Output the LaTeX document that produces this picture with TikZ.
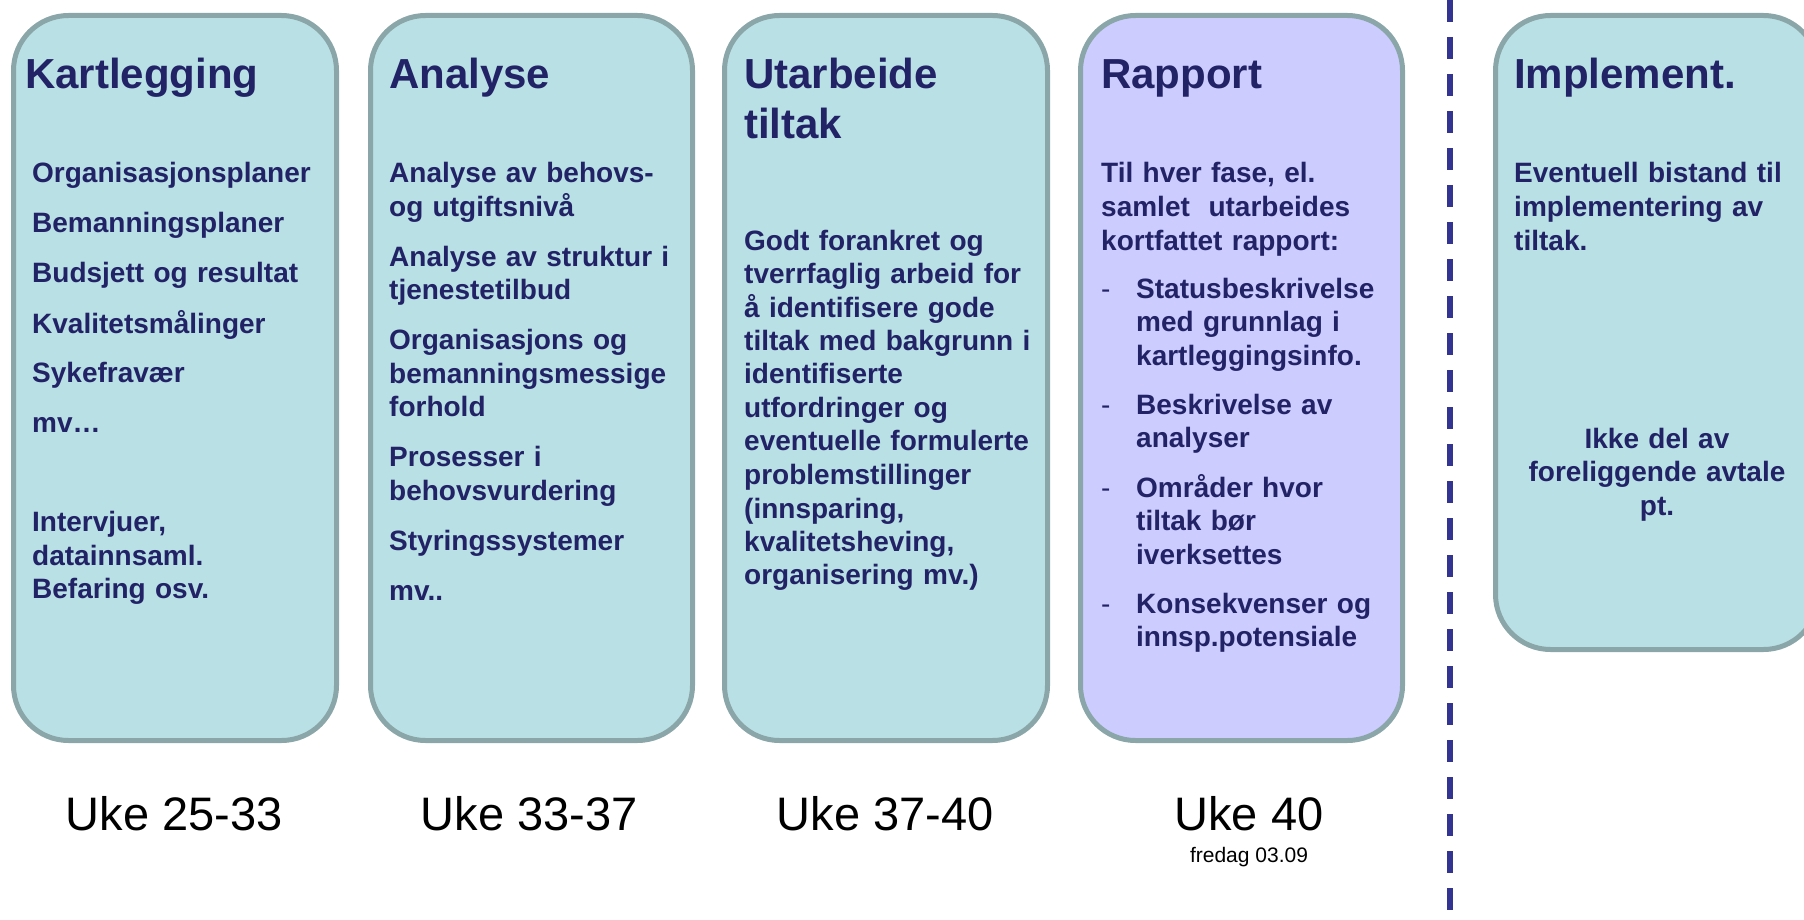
\documentclass[tikz,border=0pt]{standalone}
\usepackage{fontspec}
\setmainfont{Liberation Sans}
\definecolor{tealfill}{RGB}{185,224,228}
\definecolor{lilacfill}{RGB}{204,204,255}
\definecolor{boxline}{RGB}{138,166,168}
\definecolor{navytext}{RGB}{34,34,102}
\definecolor{dashcol}{RGB}{51,51,145}
\tikzset{
  phase/.style={draw=boxline, line width=5pt, rounded corners=55pt},
  ttl/.style={anchor=base west, inner sep=0pt, text=navytext, font=\fontsize{42}{50}\selectfont\bfseries, text width=300pt, align=left},
  body/.style={anchor=base west, inner sep=0pt, text=navytext, font=\fontsize{28}{33.5}\selectfont\bfseries, text width=330pt, align=left},
  cbody/.style={anchor=base, inner sep=0pt, text=navytext, font=\fontsize{28}{33.5}\selectfont\bfseries, text width=320pt, align=center},
  week/.style={anchor=base, inner sep=0pt, font=\fontsize{47}{56}\selectfont},
  small/.style={anchor=base, inner sep=0pt, font=\fontsize{21}{25}\selectfont}
}
\newcommand{\dashitem}{\makebox[35pt][l]{\mdseries -}}
\newcommand{\indentitem}{\hspace*{35pt}}
\begin{document}
\begin{tikzpicture}[x=1pt,y=-1pt]
\useasboundingbox (0,0) rectangle (1804,920);
\clip (0,0) rectangle (1804,920);
% boxes
\draw[phase, fill=tealfill] (13.5,15.5) rectangle (336.5,740.5);
\draw[phase, fill=tealfill] (370.5,15.5) rectangle (692.5,740.5);
\draw[phase, fill=tealfill] (724.5,15.5) rectangle (1047.5,740.5);
\draw[phase, fill=lilacfill] (1080.5,15.5) rectangle (1402.5,740.5);
\draw[phase, fill=tealfill] (1495.5,15.5) rectangle (1818.5,649.5);
% dashed separator
\coordinate (sepTop) at (1450,0);
\coordinate (sepBot) at (1450,920);
\draw[dashcol, line width=6pt, dash pattern=on 22pt off 15pt] (sepTop) -- (sepBot);
% titles
\node[ttl] (t1) at (25,89) {Kartlegging};
\node[ttl] (t2) at (389,89) {Analyse};
\node[ttl] (t3) at (744,89) {Utarbeide\\tiltak};
\node[ttl] (t4) at (1101,89) {Rapport};
\node[ttl] (t5) at (1514,89) {Implement.};
% bodies
\node[body] (b1) at (32,183) {Organisasjonsplaner\\[16.5pt]Bemanningsplaner\\[16.5pt]Budsjett og resultat\\[16.5pt]Kvalitetsmålinger\\[16.5pt]Sykefravær\\[16.5pt]mv…\\[65.5pt]Intervjuer,\\datainnsaml.\\Befaring osv.};
\node[body] (b2) at (389,183) {Analyse av behovs-\\og utgiftsnivå\\[16.5pt]Analyse av struktur i\\tjenestetilbud\\[16.5pt]Organisasjons og\\bemanningsmessige\\forhold\\[16.5pt]Prosesser i\\behovsvurdering\\[16.5pt]Styringssystemer\\[16.5pt]mv..};
\node[body] (b3) at (744,250) {Godt forankret og\\tverrfaglig arbeid for\\å identifisere gode\\tiltak med bakgrunn i\\identifiserte\\utfordringer og\\eventuelle formulerte\\problemstillinger\\(innsparing,\\kvalitetsheving,\\organisering mv.)};
\node[body] (b4) at (1101,183) {Til hver fase, el.\\samlet\ \ utarbeides\\kortfattet rapport:\\[15pt]\dashitem Statusbeskrivelse\\\indentitem med grunnlag i\\\indentitem kartleggingsinfo.\\[15.5pt]\dashitem Beskrivelse av\\\indentitem analyser\\[16pt]\dashitem Områder hvor\\\indentitem tiltak bør\\\indentitem iverksettes\\[15pt]\dashitem Konsekvenser og\\\indentitem innsp.potensiale};
\node[body] (b5) at (1514,183) {Eventuell bistand til\\implementering av\\tiltak.};
\node[cbody] (b5c) at (1657,448) {Ikke del av\\foreliggende avtale\\pt.};
% week labels
\node[week] (w1) at (174,830) {Uke 25-33};
\node[week] (w2) at (529,830) {Uke 33-37};
\node[week] (w3) at (885,830) {Uke 37-40};
\node[week] (w4) at (1249,830) {Uke 40};
\node[small] (w4d) at (1249,862) {fredag 03.09};
\end{tikzpicture}
\end{document}
